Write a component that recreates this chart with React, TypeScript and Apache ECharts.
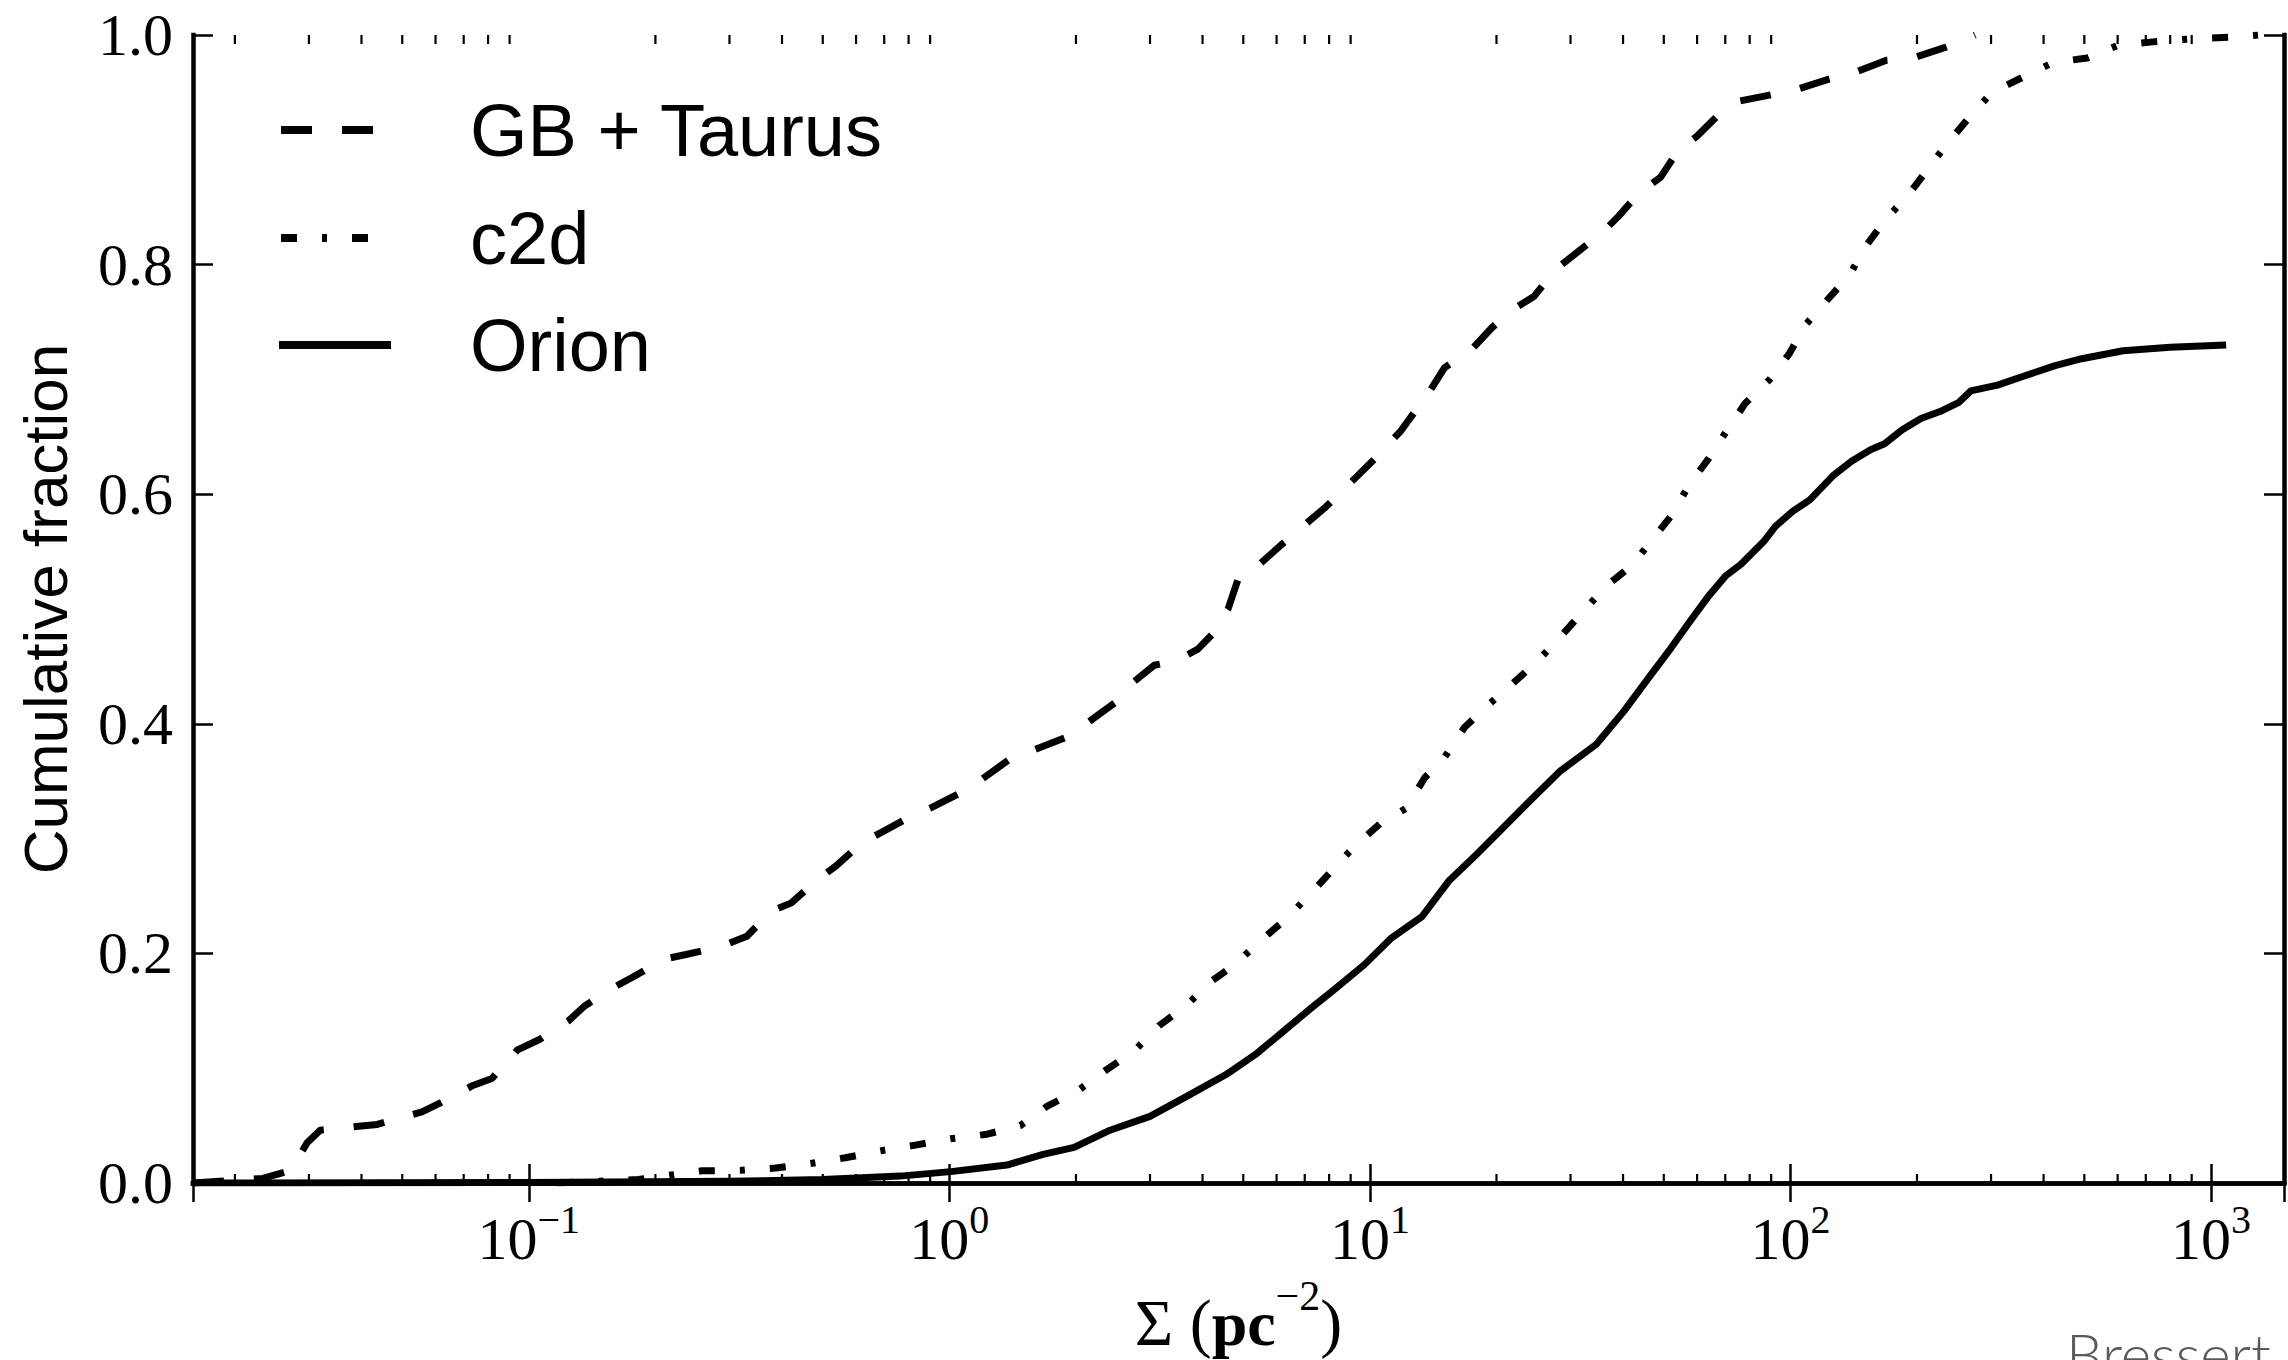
import React, { useEffect, useRef } from "react";
import * as echarts from "echarts";

// ---- axis ranges and ticks ----
const xMin = 0.0159;
const xMax = 1492;
const yTickLabels = ["0.0", "0.2", "0.4", "0.6", "0.8", "1.0"];
const decades = [0.01, 0.1, 1, 10, 100, 1000];
const minorSteps = [2, 3, 4, 5, 6, 7, 8, 9];

// ---- series: GB + Taurus ----
const gbSigma = [
  0.0159, 0.0233, 0.0272, 0.0297, 0.0319, 0.0436, 0.0557, 0.0618, 0.0736, 0.0817,
  0.094, 0.106, 0.124, 0.1355, 0.1585, 0.176, 0.2095, 0.2366, 0.2868, 0.33,
  0.3785, 0.421, 0.484, 0.537, 0.618, 0.686, 0.817, 0.906, 1.079, 1.198,
  1.426, 1.584, 1.887, 2.094, 2.49, 2.67, 3.07, 3.47, 3.9, 4.22,
  4.6, 4.88, 5.5, 6.25, 7.86, 8.6, 10.09, 11.84, 13.89, 15.04,
  17.65, 19.5, 21.9, 24.6, 27.6, 30.7, 35.5, 39.0, 43.8, 49.1,
  54.0, 60.0, 67.3, 74.7, 90.2, 104.4, 123.5, 140, 169.1, 195.8,
  234.4, 260.2, 275,
];
const gbFrac = [
  0, 0.004, 0.011, 0.035, 0.046, 0.051, 0.062, 0.07, 0.085, 0.091,
  0.116, 0.125, 0.141, 0.154, 0.17, 0.179, 0.195, 0.199, 0.206, 0.215,
  0.237, 0.244, 0.264, 0.276, 0.296, 0.305, 0.32, 0.327, 0.341, 0.352,
  0.372, 0.377, 0.388, 0.399, 0.419, 0.433, 0.451, 0.455, 0.465, 0.478,
  0.5, 0.528, 0.54, 0.558, 0.589, 0.603, 0.628, 0.655, 0.69, 0.71,
  0.728, 0.745, 0.761, 0.7725, 0.7955, 0.809, 0.827, 0.842, 0.863, 0.876,
  0.899, 0.912, 0.93, 0.942, 0.948, 0.953, 0.9615, 0.9665, 0.978, 0.98,
  0.9895, 0.996, 1.0,
];

// ---- series: c2d ----
const c2dSigma = [
  0.117, 0.182, 0.258, 0.318, 0.386, 0.468, 0.566, 0.686, 0.83, 1.007,
  1.23, 1.475, 1.71, 2.03, 2.35, 2.75, 3.15, 3.65, 4.17, 4.77,
  5.45, 6.25, 7.15, 8.07, 9.12, 10.57, 12.2, 13.5, 15.0, 16.8,
  19.2, 22.0, 25.1, 28.4, 32.4, 36.2, 42.0, 46.6, 52.3, 57.4,
  63.9, 70.2, 78.0, 89.3, 99.2, 108.9, 122.2, 138.4, 150.3, 169.1,
  190, 213, 236.6, 267.3, 301.3, 355.9, 421, 508, 601, 728,
  896, 1104, 1301, 1400,
];
const c2dFrac = [
  0, 0.003, 0.0106, 0.011, 0.013, 0.017, 0.022, 0.028, 0.033, 0.0385,
  0.0425, 0.05, 0.067, 0.081, 0.098, 0.115, 0.137, 0.154, 0.175, 0.19,
  0.21, 0.2285, 0.25, 0.271, 0.292, 0.313, 0.3265, 0.353, 0.37, 0.397,
  0.417, 0.436, 0.455, 0.476, 0.499, 0.519, 0.538, 0.559, 0.582, 0.608,
  0.631, 0.654, 0.679, 0.7, 0.722, 0.748, 0.769, 0.791, 0.815, 0.84,
  0.86, 0.884, 0.906, 0.929, 0.95, 0.963, 0.976, 0.98, 0.991, 0.994,
  0.9966, 0.998, 1.0, 1.0,
];

// ---- series: Orion ----
const orionSigma = [
  0.0159, 0.1, 0.3, 0.5, 0.763, 1.008, 1.37, 1.67, 1.98, 2.41,
  3.0, 3.65, 4.55, 5.39, 6.25, 7.23, 8.26, 9.69, 11.22, 13.3,
  15.4, 17.9, 21.2, 24.5, 28.4, 34.5, 40, 46, 52, 57.9,
  63.8, 70.2, 76.3, 86.5, 92.1, 101.2, 111.2, 126.2, 140, 155.5,
  167.5, 184.1, 204.4, 226.8, 251.7, 268.4, 310.7, 367, 426, 493,
  618, 800, 1087,
];
const orionFrac = [
  0, 0.0005, 0.0015, 0.003, 0.006, 0.0099, 0.0156, 0.025, 0.031, 0.046,
  0.058, 0.075, 0.0945, 0.113, 0.1326, 0.152, 0.169, 0.19, 0.213, 0.232,
  0.263, 0.286, 0.313, 0.336, 0.359, 0.382, 0.41, 0.44, 0.466, 0.49,
  0.511, 0.529, 0.539, 0.559, 0.572, 0.585, 0.595, 0.616, 0.629, 0.639,
  0.644, 0.656, 0.666, 0.672, 0.68, 0.69, 0.695, 0.704, 0.712, 0.718,
  0.725, 0.728, 0.73,
];

const seriesNames = ["GB + Taurus", "c2d", "Orion"];

const SERIF = "'Liberation Serif', 'DejaVu Serif', serif";
const SANS = "'Liberation Sans', Arial, Helvetica, sans-serif";
const DASH = [31, 30];
const DASHDOT = [16, 25, 5, 25];
const LW = 7;

const pairs = (xs: number[], ys: number[]) => xs.map((x, i) => [x, ys[i]]);

export default function App() {
  const ref = useRef<HTMLDivElement>(null);

  useEffect(() => {
    if (!ref.current) return;
    const chart = echarts.init(ref.current, null, { renderer: "svg" });

    const minorTicks: number[][] = [];
    decades.forEach((d) =>
      minorSteps.forEach((m) => {
        const v = d * m;
        if (v > xMin && v < xMax) minorTicks.push([v, 0]);
      })
    );

    const supDigits = (e: number) => (e < 0 ? "\u2212" + Math.abs(e) : String(e));

    const axisLineStyle = { color: "#000", width: 4.5, cap: "square" as const };
    const majorTick = { show: true, inside: true, length: 19, lineStyle: { color: "#000", width: 2.5 } };

    const option: any = {
      animation: false,
      backgroundColor: "#fff",
      grid: { left: 193, top: 35, right: 4, bottom: 161, containLabel: false },
      xAxis: [
        {
          type: "log",
          logBase: 10,
          min: xMin,
          max: xMax,
          position: "bottom",
          axisLine: { show: true, lineStyle: axisLineStyle },
          axisTick: majorTick,
          splitLine: { show: false },
          axisLabel: {
            show: true,
            margin: 16,
            showMinLabel: true,
            showMaxLabel: true,
            formatter: (v: number) => {
              const l = Math.log10(v);
              const e = Math.round(l);
              if (Math.abs(l - e) > 0.01) return "";
              return `{b|10}{s|${supDigits(e)}}`;
            },
            rich: {
              b: { fontSize: 60, lineHeight: 70, fontFamily: SERIF, color: "#000", verticalAlign: "bottom" },
              s: { fontSize: 40, lineHeight: 40, fontFamily: SERIF, color: "#000", verticalAlign: "top" },
            },
          },
          name: "{n|\u03A3 (}{b|pc}{s|\u22122}{n|)}",
          nameLocation: "middle",
          nameGap: 92,
          nameTextStyle: {
            rich: {
              n: { fontSize: 66, lineHeight: 80, fontFamily: SERIF, color: "#000", verticalAlign: "bottom" },
              b: { fontSize: 64, lineHeight: 80, fontFamily: SERIF, fontWeight: "bold", color: "#000", verticalAlign: "bottom" },
              s: { fontSize: 42, lineHeight: 42, fontFamily: SERIF, color: "#000", verticalAlign: "top" },
            },
          },
        },
        {
          type: "log",
          logBase: 10,
          min: xMin,
          max: xMax,
          position: "top",
          axisLine: { show: true, lineStyle: axisLineStyle },
          axisTick: majorTick,
          axisLabel: { show: false },
          splitLine: { show: false },
        },
      ],
      yAxis: [
        {
          type: "value",
          min: 0,
          max: 1,
          interval: 0.2,
          position: "left",
          axisLine: { show: true, lineStyle: axisLineStyle },
          axisTick: { ...majorTick, length: 20 },
          splitLine: { show: false },
          axisLabel: {
            margin: 20,
            fontSize: 60,
            fontFamily: SERIF,
            color: "#000",
            formatter: (v: number) => yTickLabels[Math.round(v / 0.2)] ?? v.toFixed(1),
          },
          name: "Cumulative fraction",
          nameLocation: "middle",
          nameGap: 117,
          nameTextStyle: { fontSize: 62, fontFamily: SANS, color: "#000" },
        },
        {
          type: "value",
          min: 0,
          max: 1,
          interval: 0.2,
          position: "right",
          axisLine: { show: true, lineStyle: axisLineStyle },
          axisTick: { ...majorTick, length: 20 },
          axisLabel: { show: false },
          splitLine: { show: false },
        },
      ],
      series: [
        {
          name: seriesNames[0],
          type: "line",
          data: pairs(gbSigma, gbFrac),
          symbol: "none",
          lineStyle: { color: "#000", width: LW, type: DASH, join: "round" },
          z: 3,
        },
        {
          name: seriesNames[1],
          type: "line",
          data: pairs(c2dSigma, c2dFrac),
          symbol: "none",
          lineStyle: { color: "#000", width: LW, type: DASHDOT, join: "round" },
          z: 3,
        },
        {
          name: seriesNames[2],
          type: "line",
          data: pairs(orionSigma, orionFrac),
          symbol: "none",
          lineStyle: { color: "#000", width: LW, type: "solid", join: "round" },
          z: 3,
        },
        {
          name: "minor ticks",
          type: "custom",
          silent: true,
          clip: false,
          z: 4,
          data: minorTicks,
          encode: { x: 0, y: 1 },
          renderItem: (_p: any, api: any) => {
            const v = api.value(0);
            const b = api.coord([v, 0]);
            const t = api.coord([v, 1]);
            const st = { stroke: "#000", lineWidth: 2.2 };
            return {
              type: "group",
              children: [
                { type: "line", shape: { x1: b[0], y1: b[1], x2: b[0], y2: b[1] - 9 }, style: st },
                { type: "line", shape: { x1: t[0], y1: t[1], x2: t[0], y2: t[1] + 9 }, style: st },
              ],
            };
          },
        },
      ],
      graphic: [
        // legend handles
        { type: "line", shape: { x1: 281, y1: 130, x2: 391, y2: 130 }, style: { stroke: "#000", lineWidth: 8, lineDash: DASH } },
        { type: "line", shape: { x1: 281, y1: 238, x2: 391, y2: 238 }, style: { stroke: "#000", lineWidth: 8, lineDash: DASHDOT } },
        { type: "line", shape: { x1: 279, y1: 345, x2: 391, y2: 345 }, style: { stroke: "#000", lineWidth: 8 } },
        // legend labels
        ...seriesNames.map((n, i) => ({
          type: "text",
          x: 470,
          y: [130, 238, 345][i],
          style: {
            text: n,
            fontSize: 74,
            fontFamily: SANS,
            fill: "#000",
            verticalAlign: "middle",
            textVerticalAlign: "middle",
            align: "left",
          },
        })),
        // watermark (cut off by the bottom edge, as in the original)
        {
          type: "text",
          x: 2066,
          y: 1353,
          style: {
            text: "Bressert",
            fontSize: 58,
            fontWeight: 300,
            fontFamily: "Lato, 'Open Sans', sans-serif",
            fill: "#5a5a5a",
            verticalAlign: "middle",
            textVerticalAlign: "middle",
            align: "left",
          },
        },
      ],
    };

    chart.setOption(option);
    return () => chart.dispose();
  }, []);

  return (
    <div
      ref={ref}
      style={{ position: "absolute", left: 0, top: 0, width: 2288, height: 1360, background: "#fff", overflow: "hidden" }}
    />
  );
}
